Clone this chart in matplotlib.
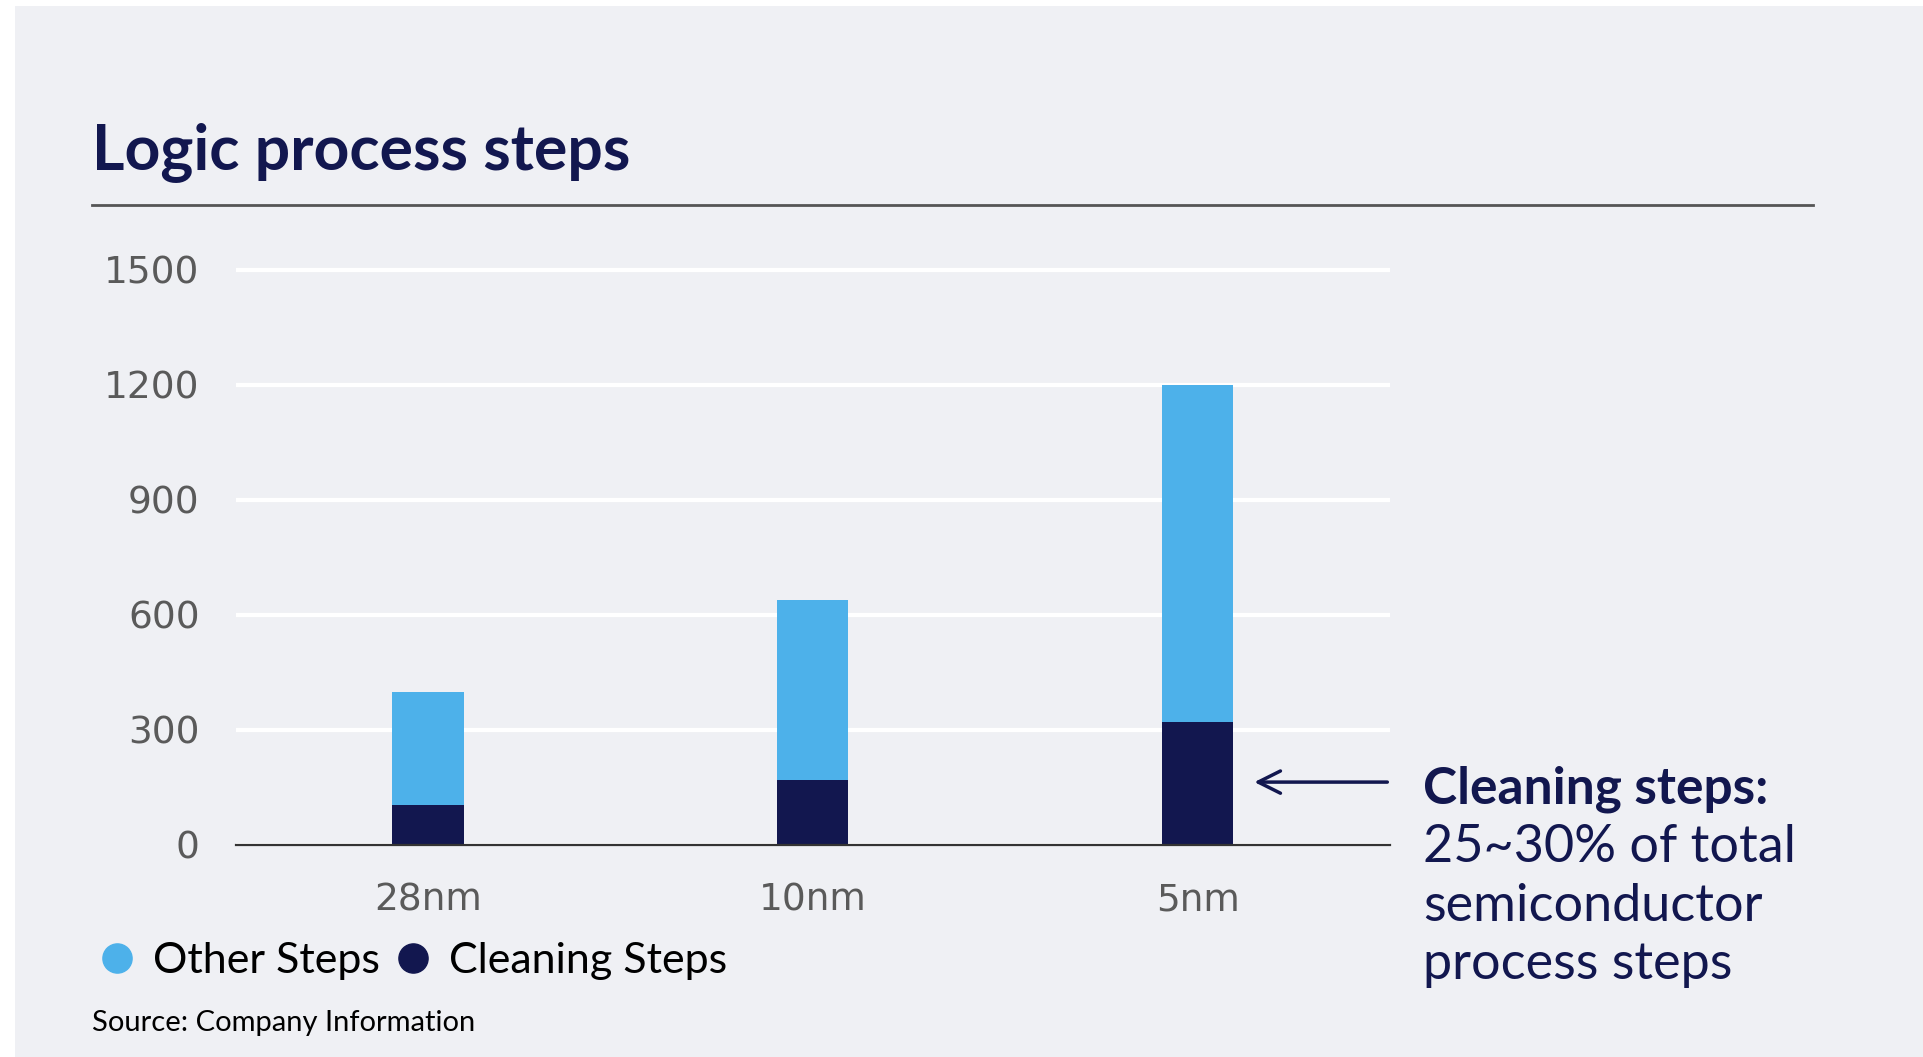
import matplotlib
matplotlib.use("Agg")
import matplotlib.pyplot as plt
from matplotlib.lines import Line2D
from matplotlib.patches import Rectangle

nodes = ["28nm", "10nm", "5nm"]
cleaning = [105, 170, 320]
other = [295, 470, 880]
yticks = [0, 300, 600, 900, 1200, 1500]

light = "#4DB1EA"
navy = "#12174F"
bg = "#EFF0F4"

fig = plt.figure(figsize=(19.24, 10.57), dpi=100)
fig.patch.set_facecolor("white")
fig.add_artist(Rectangle((15 / 1924, 0), 1, 1 - 6 / 1057, transform=fig.transFigure,
                         facecolor=bg, edgecolor="none", zorder=-10))

ax = fig.add_axes([0.1225, 0.2006, 0.6, 0.5513])
ax.set_facecolor("none")
x = range(len(nodes))
ax.bar(x, cleaning, width=0.185, color=navy, zorder=3)
ax.bar(x, other, bottom=cleaning, width=0.185, color=light, zorder=3)

ax.set_xlim(-0.5, 2.5)
ax.set_ylim(0, 1520)
ax.set_yticks(yticks)
ax.set_xticks(list(x))
ax.set_xticklabels(nodes)
ax.grid(axis="y", color="white", lw=3, zorder=0)
for s in ["top", "right", "left"]:
    ax.spines[s].set_visible(False)
ax.spines["bottom"].set_color("#333333")
ax.spines["bottom"].set_linewidth(1.6)
ax.spines["bottom"].set_zorder(4)
ax.tick_params(length=0, labelsize=27, labelcolor="#5a5a5a")
ax.tick_params(axis="y", pad=26)
ax.tick_params(axis="x", pad=27)

# arrow pointing at the cleaning part of the 5nm bar
ax.annotate("", xy=(2.14, 164), xytext=(2.5, 164),
            arrowprops=dict(arrowstyle="->", color=navy, lw=2.5, mutation_scale=40))

fig.text(1423 / 1924, 1 - 789 / 1057, "Cleaning steps:", fontsize=37, fontweight="bold",
         color=navy, va="center", family="Lato")
for i, line in enumerate(["25~30% of total", "semiconductor", "process steps"]):
    fig.text(1423 / 1924, 1 - (848 + 58.5 * i) / 1057, line, fontsize=37.5,
             color=navy, va="center", family="Lato")

# title and rule
fig.text(92 / 1924, 1 - 169 / 1057, "Logic process steps", fontsize=45, fontweight="bold",
         color=navy, va="baseline", family="Lato")
fig.add_artist(Line2D([92 / 1924, 1813 / 1924], [1 - 205 / 1057] * 2,
                      transform=fig.transFigure, color="#555555", lw=2))

handles = [Line2D([], [], marker="o", ls="", ms=21, color=light, label="Other Steps"),
           Line2D([], [], marker="o", ls="", ms=21, color=navy, label="Cleaning Steps")]
fig.legend(handles=handles, loc="center left", bbox_to_anchor=(78 / 1924, 1 - 961 / 1057),
           ncol=2, frameon=False, handlelength=0.8, handletextpad=0.45,
           columnspacing=0.35, borderpad=0, prop={"family": "Lato", "size": 31})

fig.text(92 / 1924, 1 - 1031 / 1057, "Source: Company Information", fontsize=21,
         color="black", va="baseline", family="Lato")

fig.savefig("out.png", dpi=100, facecolor=fig.get_facecolor())
